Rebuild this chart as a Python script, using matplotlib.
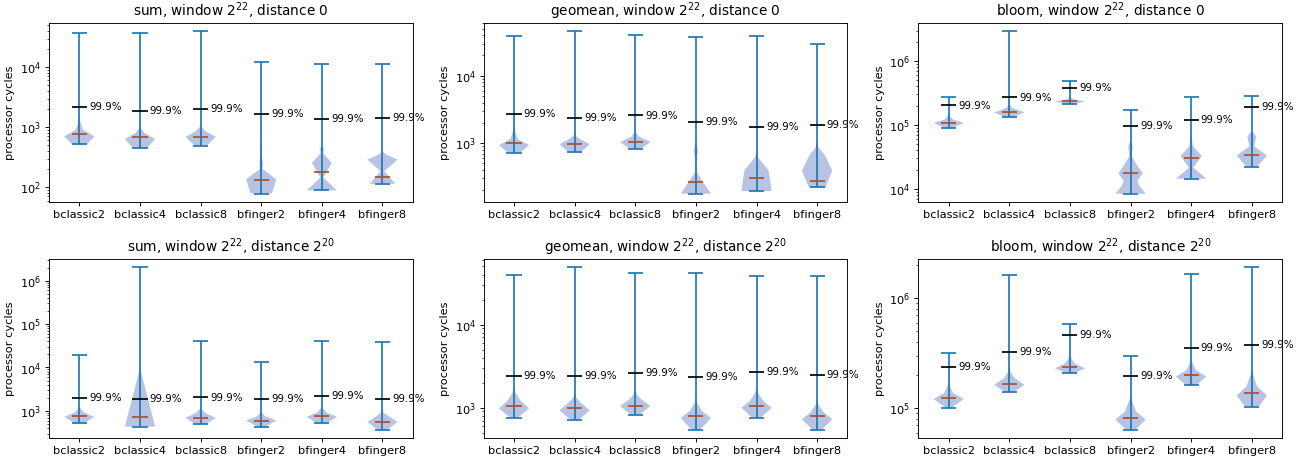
import numpy as np
import matplotlib
matplotlib.use('Agg')
import matplotlib.pyplot as plt

labels = ['bclassic2', 'bclassic4', 'bclassic8', 'bfinger2', 'bfinger4', 'bfinger8']
titles = [
    'sum, window $2^{22}$, distance 0',
    'geomean, window $2^{22}$, distance 0',
    'bloom, window $2^{22}$, distance 0',
    'sum, window $2^{22}$, distance $2^{20}$',
    'geomean, window $2^{22}$, distance $2^{20}$',
    'bloom, window $2^{22}$, distance $2^{20}$',
]

# one row per panel, one value per variant (processor cycles)
mins = [
    [523, 442, 489, 78, 88.5, 114],
    [721, 747, 826, 178, 195, 220],
    [88600, 133000, 212000, 8400, 14400, 22200],
    [522, 437, 495, 423, 522, 367],
    [759, 706, 825, 546, 759, 541],
    [101400, 139600, 210000, 63700, 162500, 103500],
]
maxs = [
    [37000, 36500, 40400, 12100, 11200, 11400],
    [39200, 46400, 40100, 37100, 39200, 29900],
    [276000, 2980000, 490000, 173000, 269000, 279000],
    [19900, 2060000, 40100, 13700, 41500, 39400],
    [39600, 49300, 41500, 41500, 38500, 38500],
    [321000, 1625000, 586000, 301000, 1660000, 1930000],
]
medians = [
    [764, 689, 689, 134, 177, 148],
    [1000, 967, 1046, 264, 309, 279],
    [108700, 161000, 233000, 17400, 30600, 33300],
    [782, 716, 679, 601, 782, 550],
    [1057, 982, 1057, 802, 1057, 788],
    [124000, 167000, 236000, 81300, 199000, 136700],
]
p999 = [
    [2180, 1850, 2020, 1650, 1350, 1420],
    [2670, 2330, 2580, 2080, 1740, 1880],
    [202000, 269000, 381000, 95000, 118000, 190000],
    [1950, 1920, 2050, 1920, 2170, 1880],
    [2390, 2390, 2595, 2330, 2690, 2500],
    [236000, 323000, 467000, 197000, 353000, 376000],
]

# density profiles: (cycles, relative density)
shapes = [
    [
        [(523, 0.5), (701, 1.0), (904, 0.25), (1240, 0.06), (1500, 0)],
        [(442, 0.45), (634, 1.0), (796, 0.3), (962, 0.05), (1150, 0)],
        [(489, 0.4), (692, 1.0), (850, 0.35), (1000, 0.06), (1200, 0)],
        [(79, 0.7), (135, 1.0), (200, 0.1), (257, 0.12), (345, 0.03), (490, 0.08), (620, 0)],
        [(88.5, 1.0), (144, 0.1), (254, 0.65), (371, 0.08), (437, 0.14), (510, 0)],
        [(114, 0.85), (185, 0.12), (288, 1.0), (350, 0.25), (400, 0)],
    ],
    [
        [(721, 0.4), (935, 1.0), (1145, 0.25), (1520, 0.06), (1800, 0)],
        [(747, 0.45), (967, 1.0), (1150, 0.35), (1280, 0.08), (1500, 0)],
        [(826, 0.4), (1040, 1.0), (1250, 0.25), (1450, 0.04), (1600, 0)],
        [(178, 1.0), (260, 0.5), (371, 0.06), (560, 0.04), (770, 0.15), (1000, 0.03), (1150, 0)],
        [(195, 1.0), (392, 0.8), (615, 0.1), (730, 0)],
        [(220, 0.55), (392, 1.0), (667, 0.5), (860, 0.1), (1080, 0)],
    ],
    [
        [(88600, 0.2), (107500, 1.0), (121000, 0.3), (136000, 0.08), (155000, 0)],
        [(133000, 0.3), (157500, 1.0), (184000, 0.2), (215000, 0)],
        [(212000, 0.3), (234000, 1.0), (254000, 0.15), (285000, 0)],
        [(8400, 1.0), (11000, 0.6), (13300, 0.45), (17500, 0.8), (24000, 0.4),
         (32500, 0.08), (46500, 0.15), (59000, 0)],
        [(14400, 1.0), (21400, 0.15), (32500, 0.7), (46500, 0.12), (70000, 0)],
        [(22200, 0.35), (33300, 1.0), (46500, 0.15), (66500, 0.3), (80000, 0)],
    ],
    [
        [(522, 0.3), (729, 1.0), (930, 0.3), (1170, 0.05), (1320, 0)],
        [(437, 1.0), (9660, 0)],
        [(495, 0.35), (692, 1.0), (900, 0.3), (1110, 0.05), (1280, 0)],
        [(423, 0.2), (601, 1.0), (756, 0.25), (930, 0.05), (1070, 0)],
        [(522, 0.3), (729, 1.0), (930, 0.3), (1170, 0.05), (1350, 0)],
        [(367, 0.3), (560, 1.0), (756, 0.4), (930, 0.06), (1070, 0)],
    ],
    [
        [(759, 0.25), (982, 1.0), (1200, 0.45), (1510, 0.1), (1820, 0)],
        [(706, 0.25), (929, 1.0), (1150, 0.4), (1320, 0.1), (1510, 0)],
        [(825, 0.3), (1047, 1.0), (1260, 0.4), (1440, 0.1), (1580, 0)],
        [(546, 0.3), (752, 1.0), (910, 0.4), (1150, 0.08), (1380, 0)],
        [(759, 0.3), (1000, 1.0), (1200, 0.45), (1510, 0.1), (1730, 0)],
        [(541, 0.3), (726, 1.0), (890, 0.4), (1100, 0.08), (1260, 0)],
    ],
    [
        [(101400, 0.2), (121400, 1.0), (137800, 0.3), (158000, 0.08), (175000, 0)],
        [(139600, 0.25), (163600, 1.0), (188000, 0.35), (216000, 0.08), (240000, 0)],
        [(210000, 0.3), (231000, 1.0), (257000, 0.3), (285000, 0.1), (306000, 0)],
        [(63700, 0.3), (79000, 1.0), (94000, 0.35), (112000, 0.15), (128000, 0)],
        [(162500, 0.35), (194400, 1.0), (223500, 0.3), (257000, 0.1), (285000, 0)],
        [(103500, 0.45), (131000, 1.0), (158000, 0.35), (182000, 0.2), (208000, 0.05), (223000, 0)],
    ],
]

fig, axes = plt.subplots(2, 3, figsize=(15.83, 5.66), dpi=82)
fig.subplots_adjust(left=0.0378, right=0.9877, top=0.951, bottom=0.056,
                    wspace=0.195, hspace=0.318)

positions = np.arange(1, len(labels) + 1)

for k, ax in enumerate(axes.flat):
    ax.set_yscale('log')
    stats = []
    for i in range(len(labels)):
        prof = np.array(shapes[k][i], dtype=float)
        stats.append(dict(coords=prof[:, 0], vals=prof[:, 1],
                          mean=medians[k][i], median=medians[k][i],
                          min=mins[k][i], max=maxs[k][i]))
    parts = ax.violin(stats, positions=positions, widths=0.5,
                      showmedians=True, showextrema=True)
    for body in parts['bodies']:
        body.set_facecolor('#b6c3e2')
        body.set_edgecolor('none')
        body.set_alpha(1)
    for key in ('cmins', 'cmaxes', 'cbars'):
        parts[key].set_color('C0')
    parts['cmedians'].set_color('#a9502f')

    ax.hlines(p999[k], positions - 0.125, positions + 0.125, color='black', lw=1.5)
    for pos, val in zip(positions, p999[k]):
        ax.text(pos + 0.16, val, '99.9%', fontsize=9, va='center')

    # log autoscale with the usual 5% margin, from the extrema
    lo, hi = min(mins[k]), max(maxs[k])
    pad = 10 ** (0.05 * np.log10(hi / lo))
    ax.set_ylim(lo / pad, hi * pad)
    ax.set_xlim(0.5, 6.5)

    ax.set_xticks(positions)
    ax.set_xticklabels(labels)
    ax.set_ylabel('processor cycles')
    ax.set_title(titles[k])

fig.savefig('out.png', dpi=82)
